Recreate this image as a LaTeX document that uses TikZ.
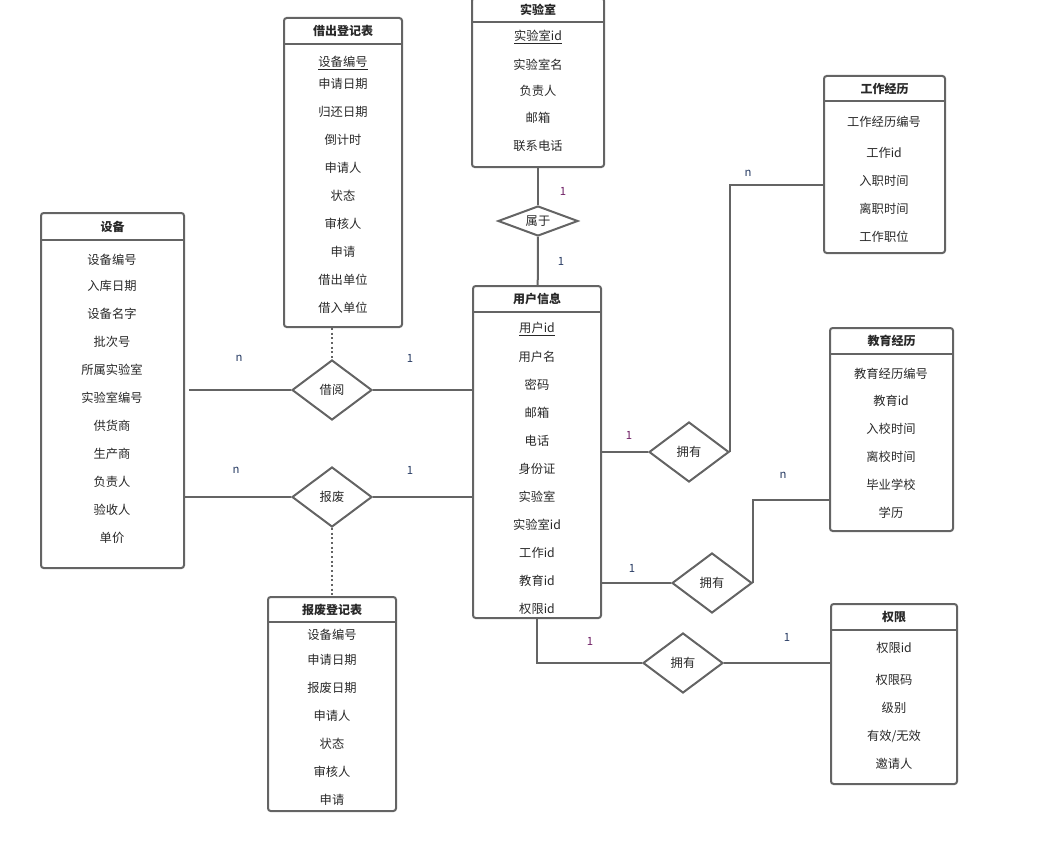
\documentclass[tikz,border=0pt]{standalone}
\usepackage{fontspec}
\setmainfont{Noto Sans CJK SC}
\usepackage{tikz}
\usetikzlibrary{positioning, fit, shapes.geometric}
\definecolor{mygray}{RGB}{100,100,100}
\definecolor{mytext}{RGB}{40,40,40}
\definecolor{mypurple}{RGB}{110,30,100}
\definecolor{myblue}{RGB}{40,60,100}

\tikzset{
  tbl/.style={draw=mygray, line width=1.5pt, rounded corners=2pt, inner sep=0pt},
  conn/.style={draw=mygray, line width=1.5pt},
  head/.style={font=\bfseries\fontsize{9}{10}\selectfont, text=mytext},
  field/.style={font=\fontsize{9.2}{10}\selectfont, text=mytext},
  rel/.style={diamond, draw=mygray, line width=1.5pt, aspect=1.33, minimum width=60pt,
              minimum height=45pt, inner sep=1pt, font=\fontsize{9.2}{10}\selectfont, text=mytext},
  card/.style={font=\fontsize{8.5}{10}\selectfont, text=myblue}
}

% name, x1, y1, x2, y2, header line, title
\newcommand{\etable}[7]{%
  \node[tbl, fit={(#2,#3) (#4,#5)}] (#1) {};
  \draw[conn] (#2,#6) -- (#4,#6);
  \node[head] (#1-title) at ({(#2+#4)/2},{(#3+#6)/2}) {#7};
}
% name, x, list of text/y
\newcommand{\efields}[3]{%
  \foreach \t/\y [count=\i] in {#3}
    \node[field] (#1-\i) at (#2,\y) {\t};
}

\begin{document}
\begin{tikzpicture}[x=0.75pt, y=-0.75pt]
  \useasboundingbox (0,0) rectangle (1064,856);

  % entities
  \etable{lab}{472}{-2}{604}{167}{22}{实验室}
  \efields{lab}{538}{{\underline{实验室id}}/37, 实验室名/65, 负责人/91, 邮箱/118, 联系电话/146}

  \etable{borrow}{284}{18}{402}{327}{44}{借出登记表}
  \efields{borrow}{343}{{\underline{设备编号}}/63, 申请日期/84, 归还日期/112, 倒计时/140, 申请人/168,
    状态/196, 审核人/224, 申请/252, 借出单位/280, 借入单位/308}

  \etable{dev}{41}{213}{184}{568}{240}{设备}
  \efields{dev}{112}{设备编号/260, 入库日期/286, 设备名字/314, 批次号/342, 所属实验室/370,
    实验室编号/398, 供货商/426, 生产商/454, 负责人/482, 验收人/510, 单价/538}

  \etable{user}{473}{286}{601}{618}{312}{用户信息}
  \efields{user}{537}{{\underline{用户id}}/329, 用户名/357, 密码/385, 邮箱/413, 电话/441, 身份证/469,
    实验室/497, 实验室id/525, 工作id/553, 教育id/581, 权限id/609}

  \etable{work}{824}{76}{945}{253}{101}{工作经历}
  \efields{work}{884}{工作经历编号/122, 工作id/153, 入职时间/181, 离职时间/209, 工作职位/237}

  \etable{edu}{830}{328}{953}{531}{354}{教育经历}
  \efields{edu}{891}{教育经历编号/374, 教育id/401, 入校时间/429, 离校时间/457, 毕业学校/485, 学历/513}

  \etable{perm}{831}{604}{957}{784}{630}{权限}
  \efields{perm}{894}{权限id/648, 权限码/680, 级别/708, {有效/无效}/736, 邀请人/764}

  \etable{scrap}{268}{597}{396}{811}{622}{报废登记表}
  \efields{scrap}{332}{设备编号/635, 申请日期/660, 报废日期/688, 申请人/716, 状态/744, 审核人/772, 申请/800}

  % relations
  \node[rel, minimum height=22.5pt, aspect=2.67] (belong) at (538,221) {属于};
  \node[rel] (jy) at (332,390) {借阅};
  \node[rel] (bf) at (332,497) {报废};
  \node[rel] (hw) at (689,452) {拥有};
  \node[rel] (he) at (712,583) {拥有};
  \node[rel] (hp) at (683,663) {拥有};

  % connectors
  \draw[conn] (lab) -- (belong);
  \draw[conn] (belong) -- (user);
  \draw[conn] ([xshift=3pt]dev.east |- jy.west) -- (jy.west);
  \draw[conn] (jy.east) -- (user.west |- jy.east);
  \draw[conn] (dev.east |- bf.west) -- (bf.west);
  \draw[conn] (bf.east) -- (user.west |- bf.east);
  \draw[conn, dotted] (jy.north |- borrow.south) -- (jy.north);
  \draw[conn, dotted] (bf.south) -- (scrap.north);
  \draw[conn] (user.east |- hw.west) -- (hw.west);
  \draw[conn] (hw.east) |- ([yshift=-15pt]work.west);
  \draw[conn] (user.east |- he.west) -- (he.west);
  \draw[conn] (he.east) |- ([yshift=-52.5pt]edu.west);
  \draw[conn] (user.south) |- (hp.west);
  \draw[conn] (hp.east) -- (perm.west |- hp.east);

  % cardinalities
  \node[card, text=mypurple] (c-lab) at (563,191) {1};
  \node[card] (c-user) at (561,261) {1};
  \node[card] (c-jyn) at (239,358) {n};
  \node[card] (c-jy1) at (410,358) {1};
  \node[card] (c-bfn) at (236,470) {n};
  \node[card] (c-bf1) at (410,470) {1};
  \node[card, text=mypurple] (c-hw1) at (629,435) {1};
  \node[card] (c-hwn) at (748,173) {n};
  \node[card] (c-he1) at (632,568) {1};
  \node[card] (c-hen) at (783,475) {n};
  \node[card, text=mypurple] (c-hp1) at (590,641) {1};
  \node[card] (c-hp2) at (787,637) {1};
\end{tikzpicture}
\end{document}
